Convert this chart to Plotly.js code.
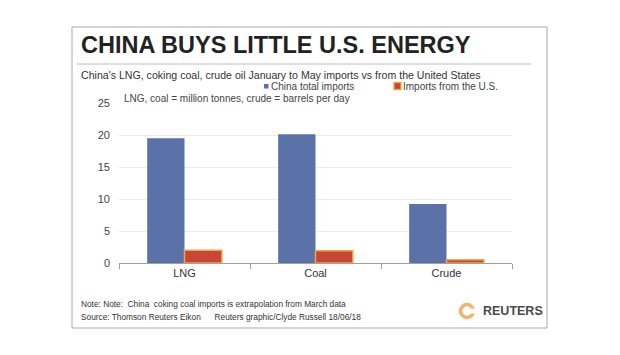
<!DOCTYPE html>
<html><head><meta charset="utf-8">
<script src="https://cdn.plot.ly/plotly-3.0.1.min.js"></script>
<style>html,body{margin:0;padding:0;background:#fff}</style>
</head><body><div id="chart" style="width:620px;height:355px"></div>
<script>
const categories = ["LNG", "Coal", "Crude"];
const chinaTotal = [19.5, 20.1, 9.2];
const fromUS = [2.0, 1.9, 0.5];
const yTicks = [0, 5, 10, 15, 20, 25];
const seriesNames = ["China total imports", "Imports from the U.S."];

const FONT = "Liberation Sans, Arial, sans-serif";
const L = 119, R = 512, T = 103, B = 263;
const W = R - L, H = B - T;
const px = x => (x - L) / W;
const py = y => (B - y) / H;

const BLUE = "#5b72a9", RED = "#c84636", ORANGE = "#f0a548";

const traces = [
  {type: "bar", name: seriesNames[0], x: categories, y: chinaTotal,
   marker: {color: BLUE, line: {width: 0}}, hoverinfo: "x+y"},
  {type: "bar", name: seriesNames[1], x: categories, y: fromUS,
   marker: {color: RED, line: {color: ORANGE, width: 1.5}}, hoverinfo: "x+y"}
];

const cx = 467, cy = 311, r = 6.5;
const layout = {
  width: 620, height: 355,
  margin: {l: L, r: 620 - R, t: T, b: 355 - B},
  paper_bgcolor: "#fff", plot_bgcolor: "#fff",
  font: {family: FONT, color: "#333", size: 11},
  barmode: "group", bargap: 0.43, bargroupgap: 0,
  showlegend: false,
  xaxis: {showgrid: false, showline: true, linecolor: "#a0a0a0", linewidth: 1,
          ticks: "outside", tickson: "boundaries", ticklen: 5, tickcolor: "#a0a0a0",
          tickfont: {size: 11, color: "#333"}, fixedrange: true},
  yaxis: {range: [0, 25], tickvals: yTicks, showgrid: true, gridcolor: "#ececec",
          zeroline: false, showline: false, ticks: "", ticklabelstandoff: 8,
          tickfont: {size: 11, color: "#444"}, fixedrange: true},
  shapes: [
    {type: "rect", xref: "paper", yref: "paper", x0: px(72), x1: px(547), y0: py(328), y1: py(27),
     line: {color: "#a8a8a8", width: 1}, fillcolor: "rgba(0,0,0,0)", layer: "below"},
    {type: "line", xref: "paper", yref: "paper", x0: px(77), x1: px(531), y0: py(64), y1: py(64),
     line: {color: "#bdbdbd", width: 1}},
    // legend markers
    {type: "rect", xref: "paper", yref: "paper", x0: px(264), x1: px(268.5), y0: py(88.5), y1: py(84),
     fillcolor: BLUE, line: {width: 0}},
    {type: "rect", xref: "paper", yref: "paper", x0: px(394), x1: px(401), y0: py(89.5), y1: py(82.5),
     fillcolor: RED, line: {color: ORANGE, width: 1.5}},
    // Reuters logo ring
    {type: "circle", xref: "paper", yref: "paper", x0: px(cx - r), x1: px(cx + r), y0: py(cy + r), y1: py(cy - r),
     line: {color: "#f2b36a", width: 3.5}, fillcolor: "rgba(0,0,0,0)"},
    {type: "rect", xref: "paper", yref: "paper", x0: px(cx + 2), x1: px(cx + r + 3), y0: py(cy + 2.5), y1: py(cy - 2.5),
     line: {width: 0}, fillcolor: "#fff"}
  ],
  annotations: [
    {xref: "paper", yref: "paper", x: px(79), y: py(45), xanchor: "left", yanchor: "middle",
     text: "<b>CHINA BUYS LITTLE U.S. ENERGY</b>", showarrow: false,
     font: {size: 23.5, color: "#222", family: FONT}},
    {xref: "paper", yref: "paper", x: px(79), y: py(75), xanchor: "left", yanchor: "middle",
     text: "China's LNG, coking coal, crude oil January to May imports vs from the United States",
     showarrow: false, font: {size: 10.6, color: "#333"}},
    {xref: "paper", yref: "paper", x: px(269), y: py(86), xanchor: "left", yanchor: "middle",
     text: seriesNames[0], showarrow: false, font: {size: 10, color: "#444"}},
    {xref: "paper", yref: "paper", x: px(401), y: py(86), xanchor: "left", yanchor: "middle",
     text: seriesNames[1], showarrow: false, font: {size: 10, color: "#444"}},
    {xref: "paper", yref: "paper", x: px(122), y: py(98), xanchor: "left", yanchor: "middle",
     text: "LNG, coal = million tonnes, crude = barrels per day",
     showarrow: false, font: {size: 10, color: "#444"}},
    {xref: "paper", yref: "paper", x: px(79), y: py(304), xanchor: "left", yanchor: "middle",
     text: "Note: Note:  China  coking coal imports is extrapolation from March data",
     showarrow: false, font: {size: 8.3, color: "#333"}},
    {xref: "paper", yref: "paper", x: px(79), y: py(317), xanchor: "left", yanchor: "middle",
     text: "Source: Thomson Reuters Eikon      Reuters graphic/Clyde Russell 18/06/18",
     showarrow: false, font: {size: 8.3, color: "#333"}},
    {xref: "paper", yref: "paper", x: px(481), y: py(311), xanchor: "left", yanchor: "middle",
     text: "<b>REUTERS</b>", showarrow: false, font: {size: 12.5, color: "#4a4a4a"}}
  ]
};

Plotly.newPlot("chart", traces, layout, {displayModeBar: false, staticPlot: true});
</script></body></html>
